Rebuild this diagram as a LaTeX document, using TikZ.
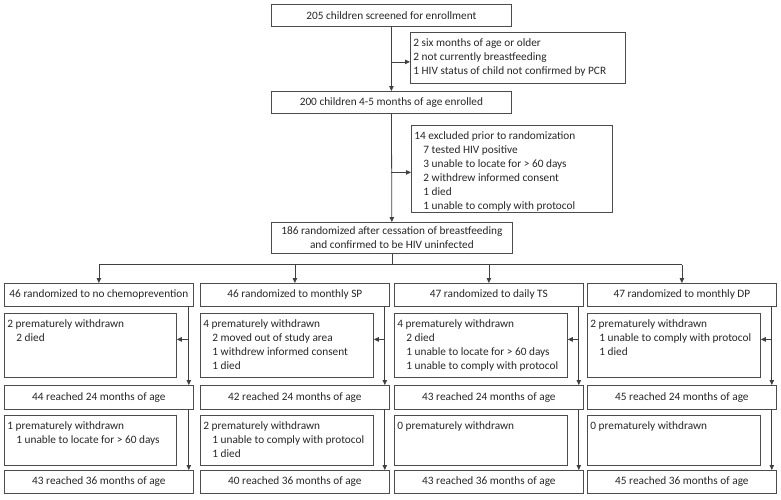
\documentclass[tikz,border=0pt]{standalone}
\usepackage{fontspec}
\setmainfont{Carlito}
\usetikzlibrary{arrows.meta,calc}
\tikzset{
 box/.style={draw=black!70, line width=0.8pt, rectangle, inner sep=0pt, anchor=north west, font=\fontsize{11.3}{14}\selectfont, text=black!85},
 conn/.style={draw=black!75, line width=0.8pt},
 arr/.style={conn, -{Triangle[length=5pt,width=4.5pt]}},
}
\newcommand\cbox[6]{\node[box, minimum width=#4pt, minimum height=#5pt] (#1) at (#2,#3) {#6};}
\newcommand\wbox[6]{\node[box, minimum width=#4pt, minimum height=#5pt] (#1) at (#2,#3) {\parbox[c][\dimexpr#5pt-9pt\relax][t]{\dimexpr#4pt-6pt\relax}{\strut#6}};}
\newcommand\ind{\par\hspace*{9pt}}
\begin{document}
\begin{tikzpicture}[x=1pt,y=-1pt]
\useasboundingbox (0,0) rectangle (781,499);
\cbox{scr}{271}{4}{240}{22}{205 children screened for enrollment}
\wbox{ex1}{410}{32}{215}{51}{2 six months of age or older\par 2 not currently breastfeeding\par 1 HIV status of child not confirmed by PCR}
\cbox{enr}{271}{91}{240}{22}{200 children 4-5 months of age enrolled}
\wbox{ex2}{411}{125}{201}{87}{14 excluded prior to randomization\ind 7 tested HIV positive\ind 3 unable to locate for > 60 days\ind 2 withdrew informed consent\ind 1 died\ind 1 unable to comply with protocol}
\node[box, minimum width=241pt, minimum height=31pt, align=center] (rnd) at (271,222) {186 randomized after cessation of breastfeeding\\and confirmed to be HIV uninfected};
% column 1
\cbox{h1}{4}{283}{189}{23}{46 randomized to no chemoprevention}
\wbox{wa1}{4}{313}{172}{64}{2 prematurely withdrawn\ind 2 died}
\cbox{ra1}{4}{385}{189}{24}{44 reached 24 months of age}
\wbox{wb1}{4}{415}{172}{50}{1 prematurely withdrawn\ind 1 unable to locate for > 60 days}
\cbox{rb1}{4}{470}{189}{23}{43 reached 36 months of age}
% column 2
\cbox{h2}{200}{283}{189}{23}{46 randomized to monthly SP}
\wbox{wa2}{200}{313}{173}{64}{4 prematurely withdrawn\ind 2 moved out of study area\ind 1 withdrew informed consent\ind 1 died}
\cbox{ra2}{200}{385}{189}{24}{42 reached 24 months of age}
\wbox{wb2}{200}{415}{173}{50}{2 prematurely withdrawn\ind 1 unable to comply with protocol\ind 1 died}
\cbox{rb2}{200}{470}{189}{23}{40 reached 36 months of age}
% column 3
\cbox{h3}{394}{283}{189}{23}{47 randomized to daily TS}
\wbox{wa3}{394}{313}{173}{64}{4 prematurely withdrawn\ind 2 died\ind 1 unable to locate for > 60 days\ind 1 unable to comply with protocol}
\cbox{ra3}{394}{385}{189}{24}{43 reached 24 months of age}
\wbox{wb3}{394}{415}{173}{50}{0 prematurely withdrawn}
\cbox{rb3}{394}{470}{189}{23}{43 reached 36 months of age}
% column 4
\cbox{h4}{587}{283}{189}{23}{47 randomized to monthly DP}
\wbox{wa4}{587}{313}{173}{64}{2 prematurely withdrawn\ind 1 unable to comply with protocol\ind 1 died}
\cbox{ra4}{587}{385}{189}{24}{45 reached 24 months of age}
\wbox{wb4}{587}{415}{173}{50}{0 prematurely withdrawn}
\cbox{rb4}{587}{470}{189}{23}{45 reached 36 months of age}
% connectors
\draw[arr] (scr) -- (enr);
\coordinate (b1) at ([yshift=-4pt]ex1.west);
\draw[arr] (scr.south |- b1) -- (b1);
\draw[arr] (enr) -- (rnd);
\coordinate (b2) at ([yshift=-3.5pt]ex2.west);
\draw[arr] (enr.south |- b2) -- (b2);
\coordinate (hl) at ($(rnd.south)+(0,11)$);
\draw[conn] (rnd.south) -- (hl);
\draw[conn] (h1.north |- hl) -- (h4.north |- hl);
\foreach \i in {1,...,4} {
  \draw[arr] (h\i.north |- hl) -- (h\i.north);
  \coordinate (v\i) at ([xshift=-5pt]h\i.south east);
  \draw[arr] (v\i) -- (v\i |- ra\i.north);
  \coordinate (c\i) at ([yshift=6pt]wa\i.east);
  \draw[arr] (v\i |- c\i) -- (c\i);
  \draw[arr] (v\i |- ra\i.south) -- (v\i |- rb\i.north);
}
\end{tikzpicture}
\end{document}
